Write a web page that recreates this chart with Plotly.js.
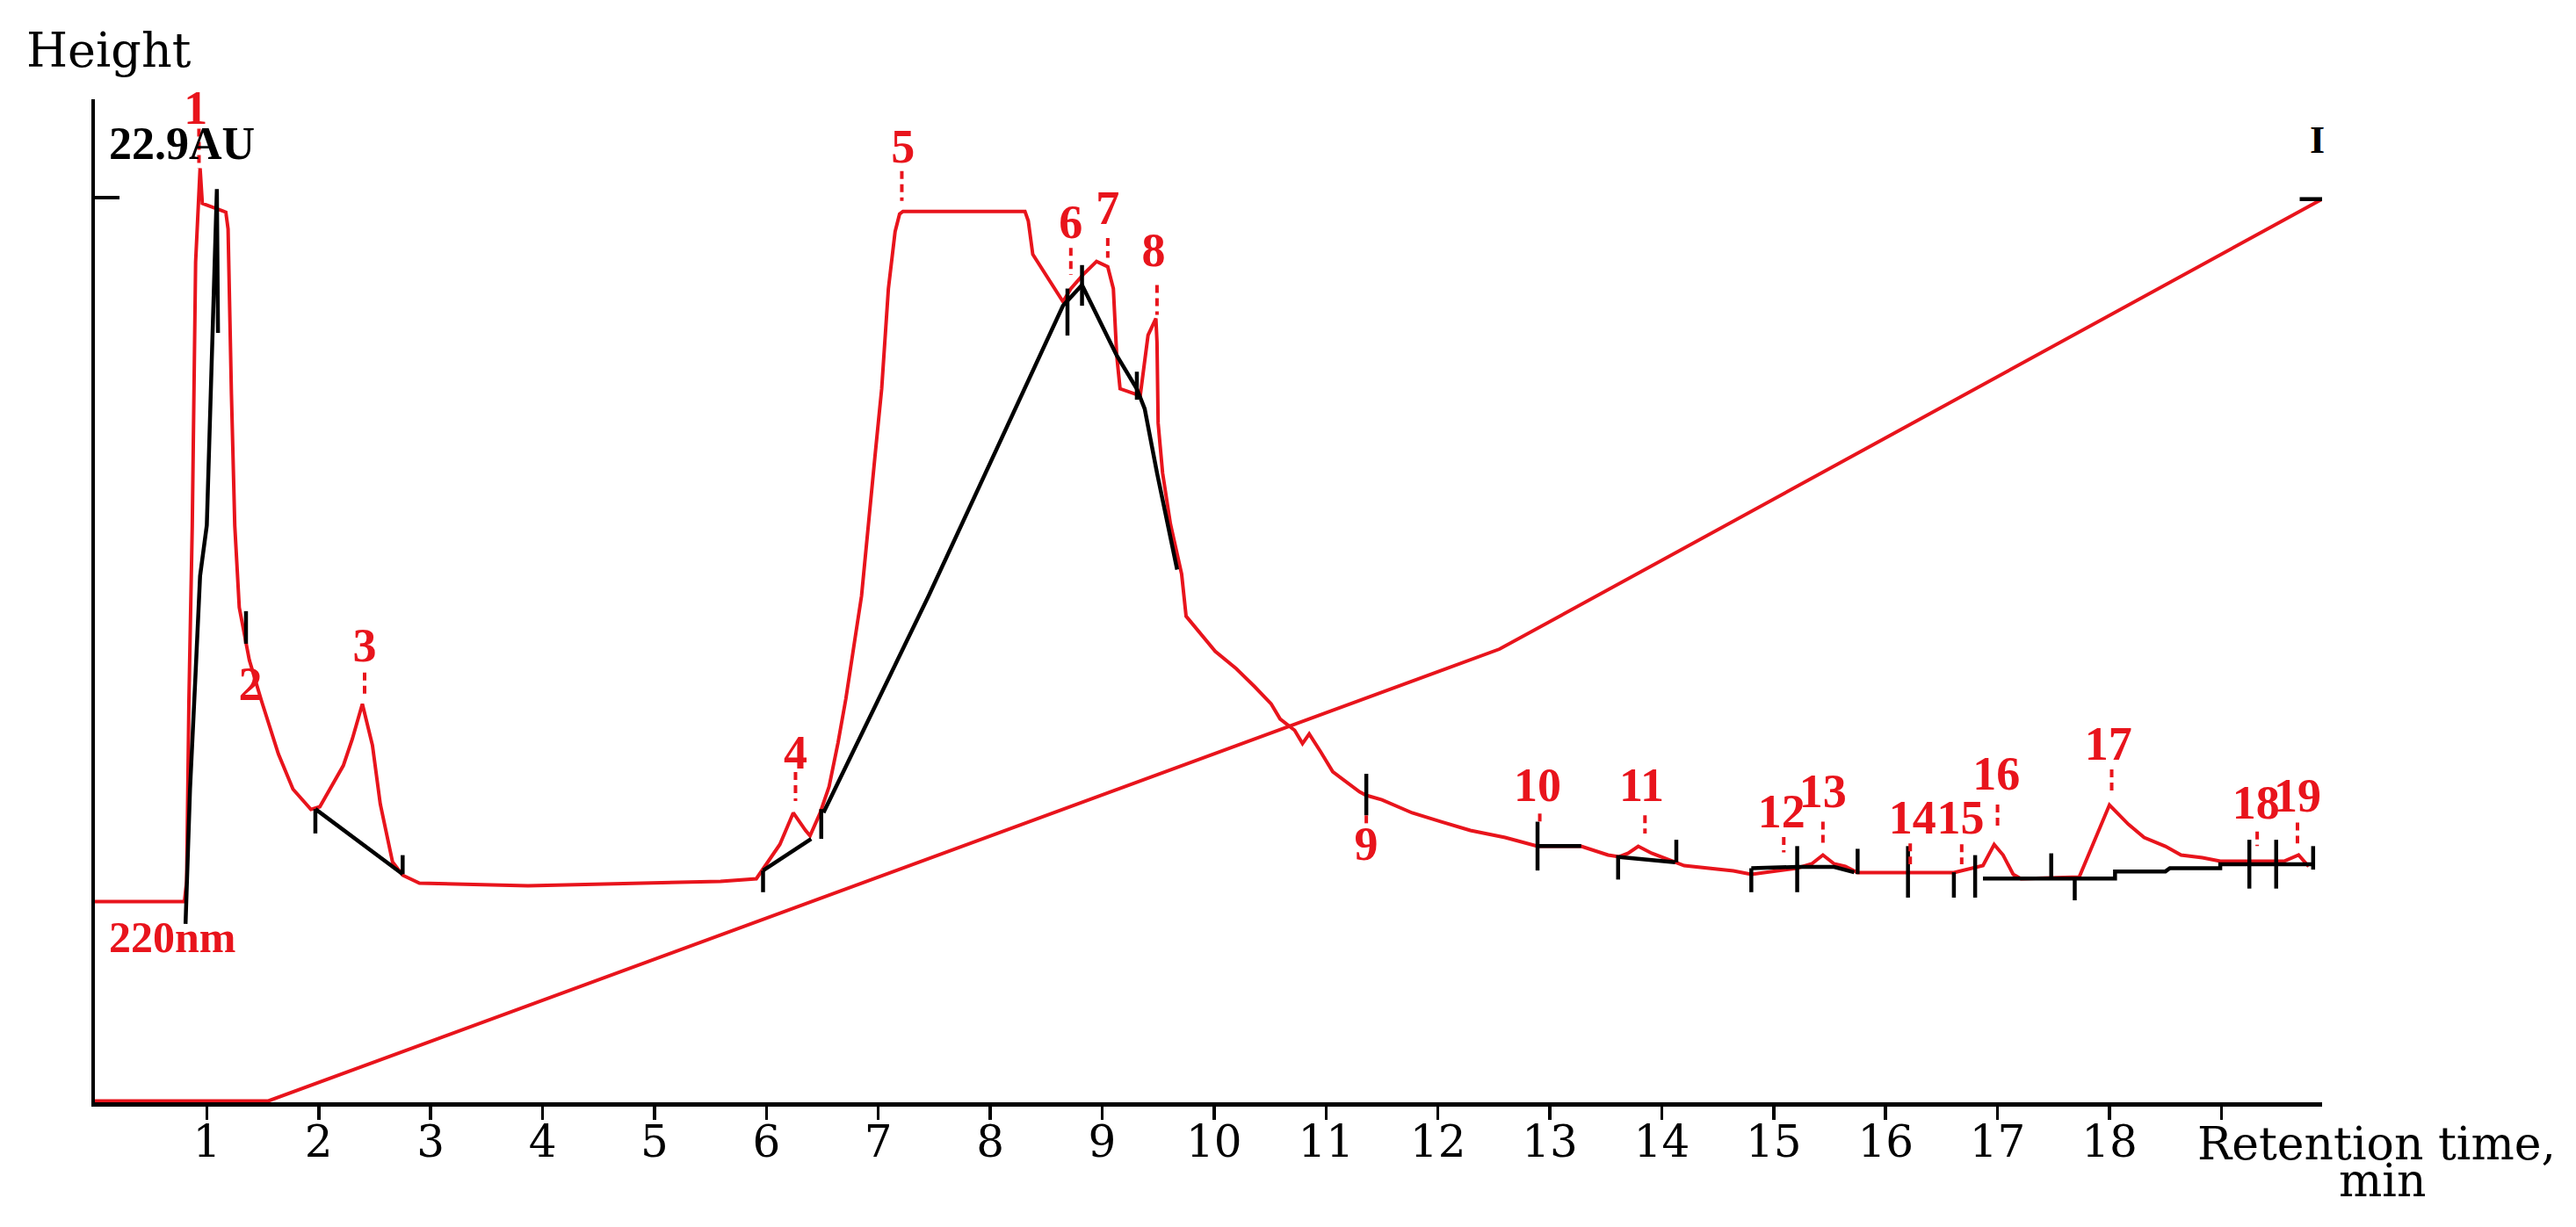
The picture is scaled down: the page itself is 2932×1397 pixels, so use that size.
<!DOCTYPE html>
<html>
<head>
<meta charset="utf-8">
<script src="https://cdn.plot.ly/plotly-3.0.1.min.js"></script>
<style>
  body { margin: 0; background: #fff; }
</style>
</head>
<body>
<div id="chrom" style="width:2932px;height:1397px;"></div>
<script>
// chromatogram (red trace), retention time in min vs height
var chromT = [0.00,0.80,0.82,0.84,0.87,0.90,0.94,0.96,1.17,1.19,1.22,1.25,1.29,1.38,1.49,1.64,1.77,1.93,2.01,2.22,
  2.30,2.39,2.48,2.55,2.66,2.75,2.90,3.87,5.59,5.91,6.12,6.24,6.35,6.39,6.48,6.56,6.64,6.71,6.79,6.85,
  6.97,7.03,7.09,7.15,7.19,7.22,8.31,8.34,8.38,8.53,8.65,8.72,8.83,8.95,9.05,9.10,9.13,9.16,9.34,9.41,
  9.48,9.49,9.50,9.54,9.61,9.71,9.75,10.01,10.20,10.36,10.51,10.59,10.72,10.79,10.85,10.95,11.06,11.30,11.36,11.50,
  11.77,12.03,12.29,12.60,12.89,13.28,13.52,13.62,13.70,13.79,13.91,14.12,14.20,14.64,14.80,15.21,15.34,15.44,15.54,15.64,
  15.75,16.61,16.87,16.97,17.05,17.14,17.21,17.73,18.00,18.17,18.31,18.50,18.64,18.83,18.99,19.56,19.69,19.78];
var chromY = [22.06,22.06,24.30,44.22,63.65,92.81,103.21,99.32,98.35,96.50,78.23,63.65,54.62,48.78,44.22,38.39,34.50,32.26,32.56,37.12,
  40.04,43.93,39.36,32.85,26.43,24.98,24.10,23.81,24.30,24.59,28.38,31.88,29.93,29.35,31.88,34.79,39.65,44.51,51.02,55.88,
  71.33,78.81,89.89,96.21,98.15,98.44,98.44,97.38,93.68,90.67,88.44,89.89,91.45,92.91,92.32,89.89,82.51,78.81,78.04,84.74,
  86.59,83.97,75.02,69.49,63.85,58.31,53.64,49.76,47.81,45.87,43.93,42.27,41.01,39.55,40.62,38.68,36.44,34.21,33.82,33.33,
  31.88,30.90,29.93,29.15,28.18,28.18,27.21,27.02,27.41,28.18,27.41,26.43,26.04,25.46,25.07,25.75,26.24,27.21,26.24,25.95,
  25.27,25.27,26.04,28.38,27.21,25.07,24.59,24.78,32.75,30.61,29.15,28.18,27.21,26.92,26.53,26.53,27.21,25.95];

// gradient line
var gradT = [0, 1.55, 12.55, 19.9];
var gradY = [0, 0, 50, 99.8];

// black integration baselines (null = break)
var baseT = [0.81,0.85,0.90,0.94,1.00,1.09,1.10,null,
  1.97,2.75,null,
  5.97,6.40,null,
  6.51,7.45,8.65,8.82,9.13,9.31,9.38,9.49,9.67,null,
  12.89,13.28,null,
  13.62,14.12,null,
  14.80,15.21,15.54,15.72,null,
  16.87,18.05,18.05,18.50,18.54,18.99,18.99,19.81,null,
  19.70,19.90];
var baseY = [19.6,34.5,47.4,58.1,63.7,100.9,85.0,null,
  32.3,25.1,null,
  25.5,29.0,null,
  31.9,55.9,88.0,90.3,82.5,78.8,76.6,69.5,58.8,null,
  28.2,28.2,null,
  27.0,26.4,null,
  25.75,25.9,25.9,25.3,null,
  24.6,24.6,25.4,25.4,25.75,25.75,26.2,26.2,null,
  99.8,99.8];

// peak start/end marks
var markT =   [1.35,1.97,2.75,5.97,6.49,8.69,8.82,9.31,11.36,12.89,13.61,14.13,14.80,15.21,15.75,16.20,16.61,16.80,17.48,17.69,19.25,19.49,19.82];
var markTop = [54.2,32.3,27.2,25.5,32.3,89.9,92.5,80.7,36.2,30.9,27.2,28.9,25.75,28.2,27.9,28.2,25.3,27.2,27.4,24.6,28.9,28.9,28.2];
var markBot = [50.6,29.6,25.1,23.1,29.0,84.7,88.0,77.6,31.6,25.5,24.5,26.4,23.1,23.1,25.1,22.5,22.5,22.5,24.6,22.2,23.5,23.5,25.6];

// peak numbers
var peakNames = ['1','2','3','4','5','6','7','8','9','10','11','12','13','14','15','16','17','18','19'];
var peakLabelT = [0.90,1.39,2.41,6.26,7.22,8.72,9.05,9.46,11.36,12.89,13.82,15.07,15.44,16.24,16.67,16.99,17.99,19.31,19.68];
var peakLabelY = [109.4,45.7,50.0,38.1,105.2,96.8,98.4,93.7,28.0,34.5,34.5,31.6,33.8,30.9,30.9,35.8,39.1,32.6,33.3];

// dashed leaders from number to peak
var leaderT =   [0.93,2.41,6.26,7.21,8.72,9.05,9.49,11.36,12.91,13.85,15.09,15.44,16.22,16.68,17.00,18.02,19.32,19.68];
var leaderTop = [107.6,47.4,36.4,102.9,94.4,95.5,90.3,31.6,31.8,31.6,29.2,30.9,28.5,28.4,32.8,36.7,29.8,30.8];
var leaderBot = [103.2,44.5,33.2,99.6,91.4,93.3,87.0,30.4,30.6,29.6,27.5,28.0,26.2,26.2,29.9,33.8,28.2,28.5];

var tickVals = [1,2,3,4,5,6,7,8,9,10,11,12,13,14,15,16,17,18,19];
var tickText = ['1','2','3','4','5','6','7','8','9','10','11','12','13','14','15','16','17','18',''];

var RED = '#e8141c';

function segs(xs, y0, y1){
  var x = [], y = [];
  for(var i=0;i<xs.length;i++){
    x.push(xs[i], xs[i], null);
    y.push(y0[i], y1[i], null);
  }
  return {x:x, y:y};
}

var mk = segs(markT, markTop, markBot);
var ld = segs(leaderT, leaderTop, leaderBot);

var gradient = {
  x: gradT, y: gradY, mode: 'lines', hoverinfo: 'skip',
  line: {color: RED, width: 4}
};
var chrom = {
  x: chromT, y: chromY, mode: 'lines', hoverinfo: 'skip',
  line: {color: RED, width: 4}
};
var base = {
  x: baseT, y: baseY, mode: 'lines', hoverinfo: 'skip',
  line: {color: '#000', width: 4.5}
};
var marks = {
  x: mk.x, y: mk.y, mode: 'lines', hoverinfo: 'skip',
  line: {color: '#000', width: 4.5}
};
var leaders = {
  x: ld.x, y: ld.y, mode: 'lines', hoverinfo: 'skip',
  line: {color: RED, width: 4, dash: '9px,6px'}
};
var labels = {
  x: peakLabelT, y: peakLabelY, text: peakNames, mode: 'text',
  textposition: 'middle center', cliponaxis: false, hoverinfo: 'skip',
  textfont: {family: 'Liberation Serif', size: 54, color: RED, weight: 'bold'}
};

var data = [gradient, chrom, base, marks, leaders, labels];

var layout = {
  width: 2932, height: 1397,
  paper_bgcolor: '#fff', plot_bgcolor: '#fff',
  showlegend: false,
  margin: {l: 108, r: 289, t: 113, b: 142},
  xaxis: {
    range: [0, 19.9],
    showgrid: false, zeroline: false,
    showline: true, linecolor: '#000', linewidth: 5,
    ticks: 'outside', ticklen: 15, tickwidth: 3.5, tickcolor: '#000',
    tickvals: tickVals, ticktext: tickText,
    ticklabelstandoff: -18,
    tickfont: {family: 'DejaVu Serif', size: 50, color: '#000'},
    layer: 'below traces'
  },
  yaxis: {
    range: [-0.15, 110.85],
    showgrid: false, zeroline: false,
    showline: true, linecolor: '#000', linewidth: 4,
    ticks: 'inside', ticklen: 28, tickwidth: 4, tickcolor: '#000',
    tickvals: [100], showticklabels: false,
    layer: 'below traces'
  },
  annotations: [
    {text: 'Height', x: -0.0316, y: 1.0486, xref: 'paper', yref: 'paper', xanchor: 'left', yanchor: 'middle',
     showarrow: false, font: {family: 'DejaVu Serif', size: 54, color: '#000'}},
    {text: '<b>22.9AU</b>', x: 0.11, y: 105.9, xref: 'x', yref: 'y', xanchor: 'left', yanchor: 'middle',
     showarrow: false, font: {family: 'Liberation Serif', size: 52, color: '#000'}},
    {text: '<b>220nm</b>', x: 0.11, y: 18.1, xref: 'x', yref: 'y', xanchor: 'left', yanchor: 'middle',
     showarrow: false, font: {family: 'Liberation Serif', size: 50, color: RED}},
    {text: '<b>I</b>', x: 19.86, y: 106.3, xref: 'x', yref: 'y', xanchor: 'center', yanchor: 'middle',
     showarrow: false, font: {family: 'Liberation Serif', size: 44, color: '#000'}},
    {text: 'Retention time,', x: 0.9432, y: -0.0412, xref: 'paper', yref: 'paper', xanchor: 'left', yanchor: 'middle',
     showarrow: false, font: {family: 'DejaVu Serif', size: 52, color: '#000'}},
    {text: 'min', x: 1.0272, y: -0.078, xref: 'paper', yref: 'paper', xanchor: 'center', yanchor: 'middle',
     showarrow: false, font: {family: 'DejaVu Serif', size: 52, color: '#000'}}
  ]
};

Plotly.newPlot('chrom', data, layout, {staticPlot: true});
</script>
</body>
</html>
